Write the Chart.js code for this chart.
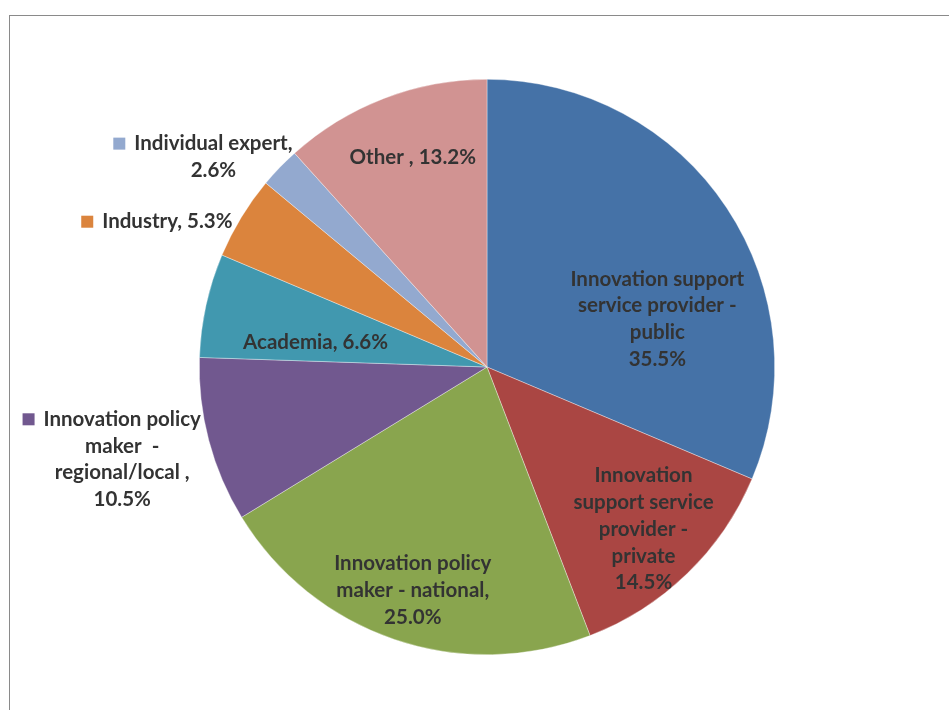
<!DOCTYPE html>
<html>
<head>
<meta charset="utf-8">
<script src="https://cdn.jsdelivr.net/npm/chart.js@4.4.1/dist/chart.umd.min.js"></script>
<style>
  html, body { margin: 0; padding: 0; background: #fff; }
  #wrap { position: relative; width: 949px; height: 710px; overflow: hidden; }
  #frame { position: absolute; left: 9px; top: 15px; width: 1000px; height: 800px;
           border-top: 1px solid #8a8a8a; border-left: 1px solid #8a8a8a; }
  #myChart { position: absolute; left: 0; top: 0; }
</style>
</head>
<body>
<div id="wrap">
  <div id="frame"></div>
  <canvas id="myChart" width="949" height="710"></canvas>
</div>
<script>
// respondent types, clockwise from 12 o'clock
var categories = [
    'Innovation support service provider - public',
    'Innovation support service provider - private',
    'Innovation policy maker - national',
    'Innovation policy maker - regional/local',
    'Academia',
    'Industry',
    'Individual expert',
    'Other'
];
var shares = [35.5, 14.5, 25.0, 10.5, 6.6, 5.3, 2.6, 13.2];
var colors = ['#4572A7', '#AA4643', '#89A54E', '#71588F', '#4198AF', '#DB843D', '#93A9CF', '#D19392'];

// how each label is broken into lines; joinValue puts the % on the last name line
var labelLines = [
    ['Innovation support', 'service provider -', 'public'],
    ['Innovation', 'support service', 'provider -', 'private'],
    ['Innovation policy', 'maker - national,'],
    ['Innovation policy', 'maker  -', 'regional/local ,'],
    ['Academia,'],
    ['Industry,'],
    ['Individual expert,'],
    ['Other ,']
];
var joinValue = [false, false, false, false, true, true, false, true];

// label block centre, in units of the pie radius from the pie centre
var labelPos = [
    [0.592, -0.167], [0.544, 0.564], [-0.258, 0.777], [-1.268, 0.321],
    [-0.596, -0.084], [-1.111, -0.505], [-0.951, -0.730], [-0.258, -0.728]
];
var outside = [false, false, false, true, false, true, true, false];

var FONT = 'bold 20.5px Lato, "Open Sans", sans-serif';
var LINE_H = 26.7;

const pieLabels = {
    id: 'pieLabels',
    afterDatasetsDraw(chart) {
        const ctx = chart.ctx;
        const arcs = chart.getDatasetMeta(0).data;
        ctx.save();
        ctx.font = FONT;
        ctx.fillStyle = '#333333';
        ctx.textAlign = 'center';
        ctx.textBaseline = 'middle';
        arcs.forEach(function (arc, i) {
            let lines = labelLines[i].slice();
            let val = shares[i].toFixed(1) + '%';
            if (joinValue[i]) {
                lines[lines.length - 1] += ' ' + val;
            } else {
                lines.push(val);
            }
            let r = arc.outerRadius;
            let cx = arc.x + labelPos[i][0] * r;
            let cy = arc.y + labelPos[i][1] * r;
            let top = cy - (lines.length - 1) * LINE_H / 2;
            lines.forEach(function (t, k) {
                ctx.fillText(t, cx, top + k * LINE_H);
            });
            if (outside[i]) {
                // small colour key in front of the first line
                let w = ctx.measureText(lines[0]).width;
                let x0 = cx - w / 2 - 9 - 12;
                ctx.fillStyle = colors[i];
                ctx.fillRect(x0, top - 6, 12, 12);
                ctx.fillStyle = '#333333';
            }
        });
        ctx.restore();
    }
};

var ctx = document.getElementById('myChart');
var chart = new Chart(ctx, {
    type: 'pie',
    data: {
        labels: categories,
        datasets: [{
            data: shares,
            backgroundColor: colors,
            borderColor: 'rgba(255,255,255,0.6)',
            borderWidth: 0.6
        }]
    },
    options: {
        responsive: false,
        animation: false,
        layout: { padding: { left: 198, right: 173, top: 79, bottom: 55 } },
        plugins: {
            legend: { display: false },
            tooltip: { enabled: false }
        }
    },
    plugins: [pieLabels]
});
</script>
</body>
</html>
